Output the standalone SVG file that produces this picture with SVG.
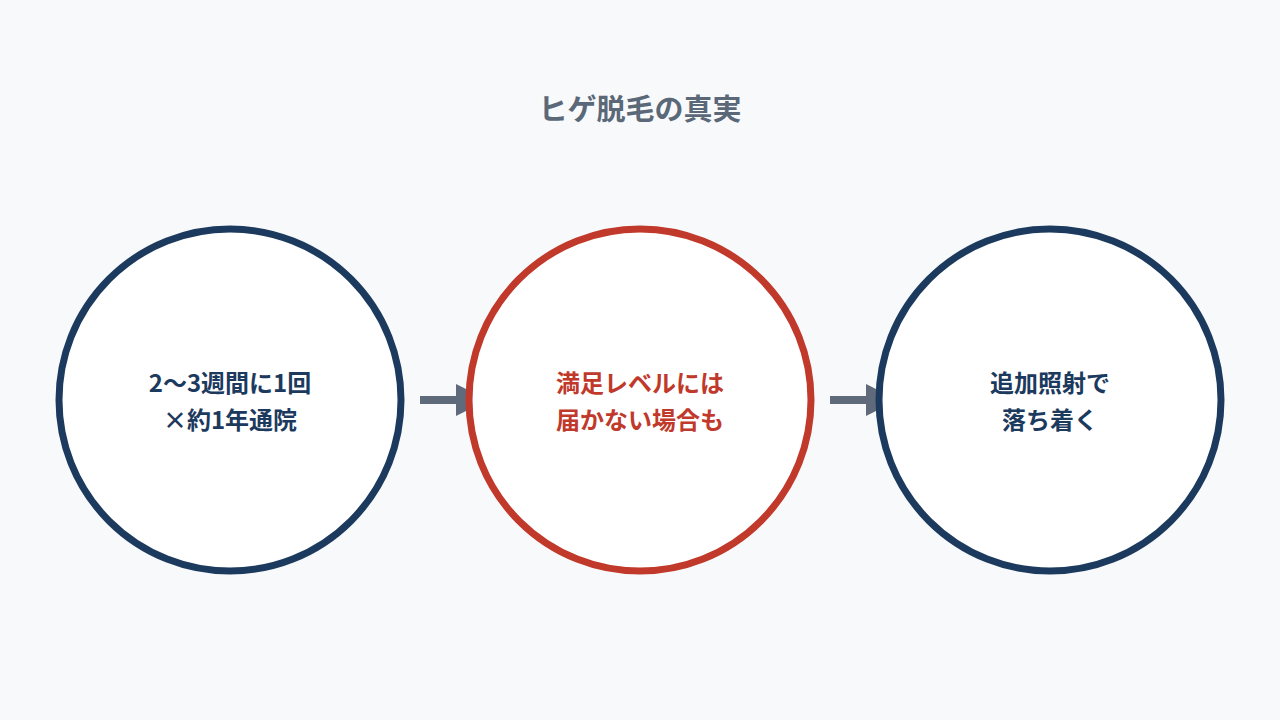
<svg xmlns="http://www.w3.org/2000/svg" width="1280" height="720" viewBox="0 0 1280 720">
<style>
.t{font-family:"Noto Sans CJK JP","Noto Sans",sans-serif;font-weight:bold;text-anchor:middle}
.c{fill:#fff;stroke-width:7}
</style>
<defs><marker id="ah" markerWidth="4" markerHeight="4" refX="1" refY="2" orient="auto" markerUnits="strokeWidth"><path d="M0,0L4,2L0,4z" fill="#5f6b7a"/></marker></defs>
<rect width="1280" height="720" fill="#f8f9fb"/>
<text class="t" x="640" y="120" font-size="29" fill="#5a6878">ヒゲ脱毛の真実</text>
<g id="connectors" stroke="#5f6b7a" stroke-width="8" fill="none">
<line x1="420" y1="400" x2="464" y2="400" marker-end="url(#ah)"/>
<line x1="830" y1="400" x2="874" y2="400" marker-end="url(#ah)"/>
</g>
<g id="n1"><circle class="c" cx="230" cy="400" r="171" stroke="#1c3a5e"/>
<text class="t" x="230" y="392" font-size="24" fill="#1c3a5e">2〜3週間に1回</text>
<text class="t" x="230" y="429" font-size="24" fill="#1c3a5e">×約1年通院</text></g>
<g id="n2"><circle class="c" cx="640" cy="400" r="171" stroke="#c0392b"/>
<text class="t" x="640" y="392" font-size="24" fill="#c0392b">満足レベルには</text>
<text class="t" x="640" y="429" font-size="24" fill="#c0392b">届かない場合も</text></g>
<g id="n3"><circle class="c" cx="1050" cy="400" r="171" stroke="#1c3a5e"/>
<text class="t" x="1050" y="392" font-size="24" fill="#1c3a5e">追加照射で</text>
<text class="t" x="1050" y="429" font-size="24" fill="#1c3a5e">落ち着く</text></g>
</svg>
